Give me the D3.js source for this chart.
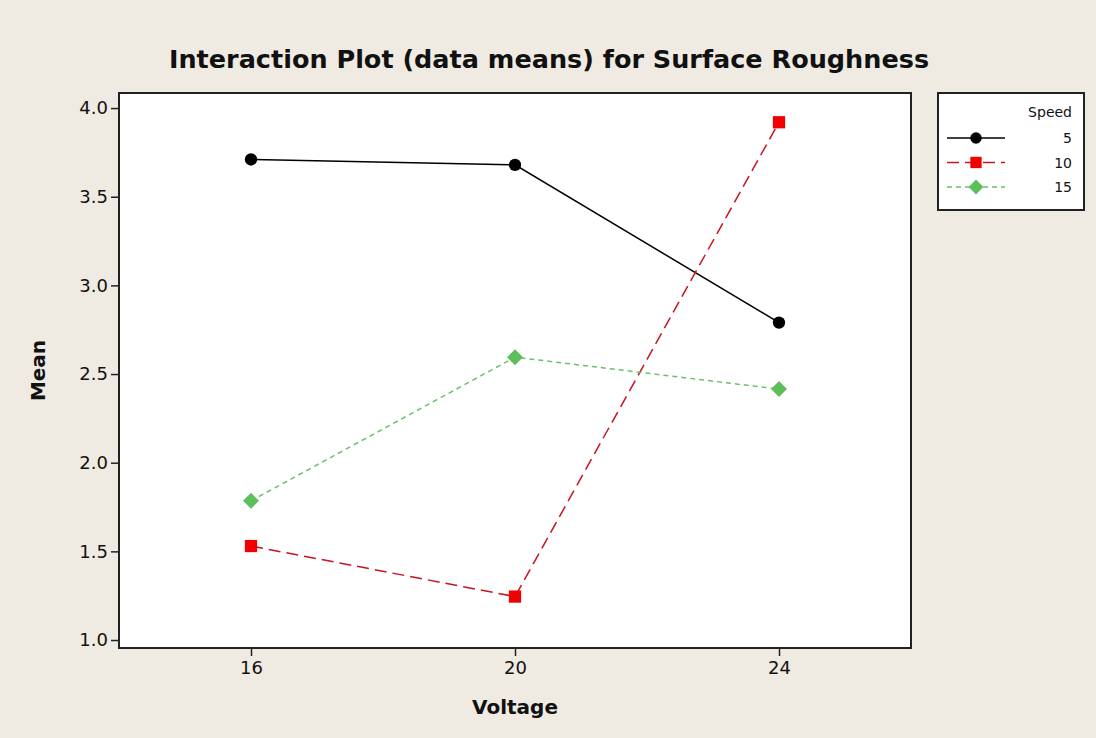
<!DOCTYPE html>
<html>
<head>
<meta charset="utf-8">
<script src="https://cdn.jsdelivr.net/npm/d3@7"></script>
<style>
  body { margin: 0; background: #efebe2; }
  text { font-family: Tahoma, "DejaVu Sans", sans-serif; fill: #111; }
</style>
</head>
<body>
<svg id="chart"></svg>
<script>
// x levels (Voltage) and series means per Speed
const voltages = [16, 20, 24]
const speeds = ["5", "10", "15"]
const speed5 = [3.71, 3.68, 2.79]
const speed10 = [1.53, 1.245, 3.92]
const speed15 = [1.785, 2.595, 2.415]
const yTicks = [1.0, 1.5, 2.0, 2.5, 3.0, 3.5, 4.0]

// diamond = square turned 45 degrees, like Minitab's marker
const series = [
  { name: speeds[0], values: speed5, line: "#000", marker: "#000", dash: null, shape: d3.symbolCircle, size: 120, rot: 0 },
  { name: speeds[1], values: speed10, line: "#c8141e", marker: "#f00000", dash: "12,6", shape: d3.symbolSquare, size: 150, rot: 0 },
  { name: speeds[2], values: speed15, line: "#6cc06c", marker: "#5cbf5c", dash: "5,4", shape: d3.symbolSquare, size: 128, rot: 45 }
]

let dimensions = {
  width: 1096, height: 738,
  margin: { top: 93, right: 185, bottom: 90, left: 119 },
}
dimensions.boundedWidth = dimensions.width - dimensions.margin.left - dimensions.margin.right
dimensions.boundedHeight = dimensions.height - dimensions.margin.top - dimensions.margin.bottom

const wrapper = d3.select("#chart")
  .attr("width", dimensions.width)
  .attr("height", dimensions.height)

wrapper.append("rect")
  .attr("width", dimensions.width).attr("height", dimensions.height)
  .attr("fill", "#efebe2")

const bounds = wrapper.append("g")
  .attr("transform", `translate(${dimensions.margin.left}, ${dimensions.margin.top})`)

const xScale = d3.scaleLinear()
  .domain([14, 26])
  .range([0, dimensions.boundedWidth])

const yScale = d3.scaleLinear()
  .domain([0.955, 4.085])
  .range([dimensions.boundedHeight, 0])

// plot frame
bounds.append("rect")
  .attr("width", dimensions.boundedWidth)
  .attr("height", dimensions.boundedHeight)
  .attr("fill", "#fff")
  .attr("stroke", "#222")
  .attr("stroke-width", 2)

const lineGenerator = d3.line()
  .x((d, i) => xScale(voltages[i]))
  .y(d => yScale(d))

series.forEach(s => {
  bounds.append("path")
    .attr("d", lineGenerator(s.values))
    .attr("fill", "none")
    .attr("stroke", s.line)
    .attr("stroke-width", 1.5)
    .attr("stroke-dasharray", s.dash)
  bounds.selectAll(null)
    .data(s.values)
    .join("path")
    .attr("d", d3.symbol().type(s.shape).size(s.size))
    .attr("transform", (d, i) => `translate(${xScale(voltages[i])}, ${yScale(d)}) rotate(${s.rot})`)
    .attr("fill", s.marker)
})

const yAxis = bounds.append("g")
  .call(d3.axisLeft(yScale).tickValues(yTicks).tickFormat(d3.format(".1f")).tickSize(8).tickSizeOuter(0))
yAxis.select(".domain").remove()
yAxis.selectAll("line").attr("stroke", "#222").attr("stroke-width", 1.5)
yAxis.selectAll("text").style("font-size", "18px").attr("x", -11).attr("fill", "#111")

const xAxis = bounds.append("g")
  .attr("transform", `translate(0, ${dimensions.boundedHeight})`)
  .call(d3.axisBottom(xScale).tickValues(voltages).tickSize(8).tickSizeOuter(0))
xAxis.select(".domain").remove()
xAxis.selectAll("line").attr("stroke", "#222").attr("stroke-width", 1.5)
xAxis.selectAll("text").style("font-size", "18px").attr("y", 13).attr("fill", "#111")

// title and axis labels
wrapper.append("text")
  .attr("x", 549).attr("y", 68)
  .attr("text-anchor", "middle")
  .style("font-size", "25.5px").style("font-weight", "bold")
  .text("Interaction Plot (data means) for Surface Roughness")

wrapper.append("text")
  .attr("x", dimensions.margin.left + xScale(20)).attr("y", 714)
  .attr("text-anchor", "middle")
  .style("font-size", "20px").style("font-weight", "bold")
  .text("Voltage")

wrapper.append("text")
  .attr("transform", `translate(45, ${dimensions.margin.top + dimensions.boundedHeight / 2}) rotate(-90)`)
  .attr("text-anchor", "middle")
  .style("font-size", "20px").style("font-weight", "bold")
  .text("Mean")

// legend
const legend = wrapper.append("g").attr("transform", "translate(938, 93)")
legend.append("rect")
  .attr("width", 146).attr("height", 117)
  .attr("fill", "#fff").attr("stroke", "#222").attr("stroke-width", 2)
legend.append("text")
  .attr("x", 134).attr("y", 24)
  .attr("text-anchor", "end")
  .style("font-size", "14px")
  .text("Speed")
series.forEach((s, i) => {
  const y = 45 + i * 24.5
  legend.append("line")
    .attr("x1", 9).attr("x2", 67).attr("y1", y).attr("y2", y)
    .attr("stroke", s.line).attr("stroke-width", 1.5)
    .attr("stroke-dasharray", s.dash)
  legend.append("path")
    .attr("d", d3.symbol().type(s.shape).size(s.size * 0.85))
    .attr("transform", `translate(38, ${y}) rotate(${s.rot})`)
    .attr("fill", s.marker)
  legend.append("text")
    .attr("x", 134).attr("y", y + 5)
    .attr("text-anchor", "end")
    .style("font-size", "14px")
    .text(s.name)
})
</script>
</body>
</html>
